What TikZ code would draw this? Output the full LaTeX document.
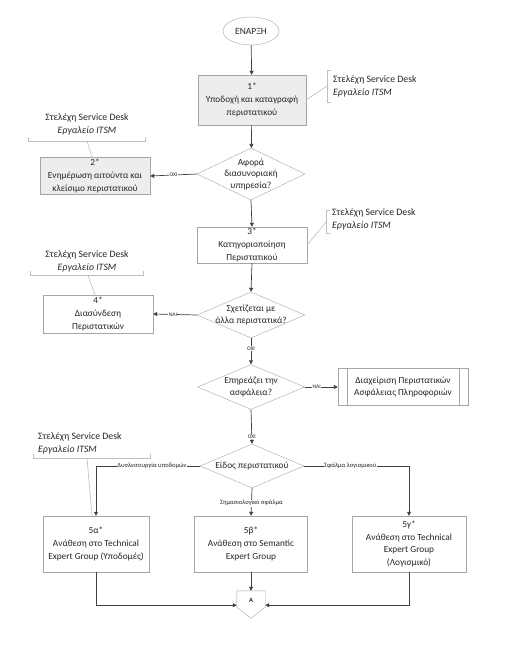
\documentclass[tikz,border=0pt]{standalone}
\usepackage{fontspec}
\setmainfont{Carlito}
\usetikzlibrary{shapes.geometric,arrows.meta,calc}
\definecolor{boxgray}{HTML}{A6A6A6}
\definecolor{linegray}{HTML}{404040}
\definecolor{brgray}{HTML}{BFBFBF}
\definecolor{fillgray}{HTML}{EDEDED}
\definecolor{txt}{HTML}{262626}
\begin{document}
\begin{tikzpicture}[x=1pt,y=-1pt,
  every node/.style={text=txt},
  proc/.style={draw=boxgray, fill=white, align=center, inner sep=1pt, font=\fontsize{9.3}{12.7}\selectfont},
  gproc/.style={proc, fill=fillgray},
  dec/.style={diamond, draw=boxgray, fill=white, inner sep=0pt},
  dtext/.style={font=\fontsize{9.3}{11.5}\selectfont, align=center},
  conn/.style={draw=linegray, line width=0.7pt, -{Triangle[width=4pt,length=4pt]}},
  lbl/.style={fill=white, inner sep=0.6pt, font=\fontsize{6.5}{7}\selectfont},
  slbl/.style={fill=white, inner sep=0.6pt, font=\fontsize{5.5}{6}\selectfont},
  bracket/.style={draw=brgray, line width=0.6pt},
  annot/.style={font=\fontsize{9.8}{12.7}\selectfont, inner sep=0pt},
  aline/.style={draw=brgray, line width=0.6pt}]
\useasboundingbox (0,0) rectangle (509,645);
\fill[white] (0,0) rectangle (509,645);

% main nodes
\node[ellipse, draw=boxgray, fill=white, minimum width=56, minimum height=28, inner sep=0pt, font=\fontsize{9.5}{11}\selectfont] (start) at (251,31) {ΕΝΑΡΞΗ};
\node[gproc, minimum width=108, minimum height=50] (n1) at (252,100) {1*\\Υποδοχή και καταγραφή\\περιστατικού};
\node[dec, minimum width=108, minimum height=52] (d1) at (251,174) {};
\node[dtext] (d1t) at (d1.center) {Αφορά\\διασυνοριακή\\υπηρεσία?};
\node[gproc, minimum width=110, minimum height=37] (n2) at (95,176) {2*\\Ενημέρωση αιτούντα και\\κλείσιμο περιστατικού};
\node[proc, minimum width=110, minimum height=36] (n3) at (252,245) {3*\\Κατηγοριοποίηση\\Περιστατικού};
\node[dec, minimum width=108, minimum height=46] (d2) at (251,315) {};
\node[dtext] (d2t) at (d2.center) {Σχετίζεται με\\άλλα περιστατικά?};
\node[proc, minimum width=110, minimum height=38] (n4) at (98,314) {4*\\Διασύνδεση\\Περιστατικών};
\node[dec, minimum width=107, minimum height=45] (d3) at (251,387) {};
\node[dtext] (d3t) at (d3.center) {Επηρεάζει την\\ασφάλεια?};
\node[proc, minimum width=130, minimum height=37] (sec) at (403,387) {Διαχείριση Περιστατικών\\Ασφάλειας Πληροφοριών};
\draw[boxgray] ([xshift=9pt]sec.north west) -- ([xshift=9pt]sec.south west);
\draw[boxgray] ([xshift=-9pt]sec.north east) -- ([xshift=-9pt]sec.south east);
\node[dec, minimum width=104, minimum height=44] (d4) at (252,466) {};
\node[dtext] (d4t) at (d4.center) {Είδος περιστατικού};
\node[proc, minimum width=106, minimum height=56] (n5a) at (96,544) {5α*\\Ανάθεση στο Technical\\Expert Group (Υποδομές)};
\node[proc, minimum width=113, minimum height=56] (n5b) at (251,544) {5β*\\Ανάθεση στο Semantic\\Expert Group};
\node[proc, minimum width=114, minimum height=56] (n5c) at (409,544) {5γ*\\Ανάθεση στο Technical\\Expert Group\\(Λογισμικό)};

% off-page connector A
\node[minimum width=28, minimum height=16, inner sep=0pt] (A) at (251,599) {};
\draw[boxgray, fill=white] (A.north west) -- (A.north east) -- (A.south east) -- ($(A.south)+(0,11)$) -- (A.south west) -- cycle;
\node[font=\bfseries\fontsize{6.5}{7}\selectfont, inner sep=0pt] (Atxt) at ([yshift=-1pt]A.center) {A};

% annotations
\draw[bracket] (331,70) -- (327,70) -- (327,102) -- (331,102);
\coordinate (a1c) at (327,86);
\node[annot, anchor=west, align=left] (a1) at (333,86.5) {Στελέχη Service Desk\\\textit{Εργαλείο ITSM}};

\draw[bracket] (28,137) -- (28,141) -- (145,141) -- (145,137);
\coordinate (a2c) at (87,141);
\node[annot, align=center] (a2) at (87,124.5) {Στελέχη Service Desk\\\textit{Εργαλείο ITSM}};

\draw[bracket] (330,210) -- (326,210) -- (326,233) -- (330,233);
\coordinate (a3c) at (326,222);
\node[annot, anchor=west, align=left] (a3) at (332,219) {Στελέχη Service Desk\\\textit{Εργαλείο ITSM}};

\draw[bracket] (30,271) -- (30,275) -- (143,275) -- (143,271);
\coordinate (a4c) at (88,275);
\node[annot, align=center] (a4) at (87,261.5) {Στελέχη Service Desk\\\textit{Εργαλείο ITSM}};

\draw[bracket] (33,454) -- (33,458) -- (150,458) -- (150,454);
\coordinate (a5c) at (87,458);
\node[annot, anchor=west, align=left] (a5) at (38,443.5) {Στελέχη Service Desk\\\textit{Εργαλείο ITSM}};

\draw[aline] (n1.east) -- (a1c);
\draw[aline] (a2c) -- ([xshift=-3pt]n2.north);
\draw[aline] (n3.east) -- (a3c);
\draw[aline] (a4c) -- ([xshift=-3pt]n4.north);
\draw[aline] (a5c) -- ([xshift=-4pt]n5a.north);

% connectors
\draw[conn] (start) -- (n1);
\draw[conn] (n1) -- (d1);
\draw[conn] (d1.west) -- node[slbl, pos=0.5] {ΟΧΙ} (n2.east);
\draw[conn] (d1.south) -- (n3.north);
\draw[conn] (n3.south) -- (d2.north);
\draw[conn] (d2.west) -- node[slbl, pos=0.55] {ΝΑΙ} (n4.east);
\draw[conn] (d2.south) -- node[slbl, pos=0.4] {ΟΧΙ} (d3.north);
\draw[conn] (d3.east) -- node[slbl, pos=0.36] {ΝΑΙ} (sec.west);
\draw[conn] (d3.south) -- node[slbl, pos=0.8] {ΟΧΙ} (d4.north);
\draw[conn] (d4.west) -| node[lbl, pos=0.23] {Δυσλειτουργία υποδομών} (n5a.north);
\draw[conn] (d4.south) -- node[lbl, pos=0.54] {Σημασιολογικό σφάλμα} (n5b.north);
\draw[conn] (d4.east) -| node[lbl, pos=0.22] {Σφάλμα λογισμικού} (n5c.north);
\draw[conn] (n5b.south) -- (A.north);
\draw[conn] (n5a.south) |- ([yshift=2pt]A.south west);
\draw[conn] (n5c.south) |- ([yshift=2pt]A.south east);
\end{tikzpicture}
\end{document}
